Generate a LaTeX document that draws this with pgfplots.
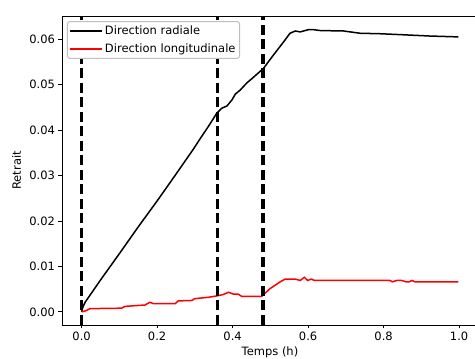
\documentclass[border=0pt]{standalone}
\usepackage{fontspec}
\setmainfont{DejaVu Sans}
\usepackage{pgfplots}
\pgfplotsset{compat=1.18}
\begin{document}
\begin{tikzpicture}
\begin{axis}[
  at={(0,0)}, anchor=south west,
  scale only axis, width=416pt, height=309pt,
  xmin=-0.052, xmax=1.05, ymin=-0.0029, ymax=0.0651,
  xtick={0,0.2,0.4,0.6,0.8,1.0},
  ytick={0,0.01,0.02,0.03,0.04,0.05,0.06},
  scaled y ticks=false, scaled x ticks=false,
  xticklabel style={/pgf/number format/.cd, fixed, fixed zerofill, precision=1},
  yticklabel style={/pgf/number format/.cd, fixed, fixed zerofill, precision=2},
  /pgf/number format/assume math mode=true,
  tick align=outside, xtick pos=bottom, ytick pos=left,
  major tick length=3.5pt,
  tick style={black, line width=0.8pt},
  axis line style={line width=0.8pt},
  font=\fontsize{11.5}{13.8}\selectfont,
  xlabel={Temps (h)}, ylabel={Retrait},
  xlabel style={at={(axis description cs:0.5,-0.1003)}, anchor=base},
  ylabel style={at={(axis description cs:-0.0986,0.5)}, anchor=base},
  legend cell align=left,
  legend style={at={(axis description cs:0,1)}, anchor=north west,
    xshift=5pt, yshift=-5pt, draw=black!25, line width=1pt, rounded corners=2.5pt,
    fill=white, inner xsep=2pt, inner ysep=2.5pt, row sep=3.5pt,
    font=\fontsize{11.5}{13.8}\selectfont},
  legend image code/.code={\path (0pt,0pt) -- (32pt,0pt); \draw[#1] (3pt,0pt) -- (27pt,0pt);},
]
\addplot[black, line width=1.5pt] coordinates {
(0,0) (0.004,0.0012) (0.01,0.0022) (0.02,0.0034) (0.05,0.0070) (0.1,0.0128)
(0.15,0.0187) (0.2,0.0244) (0.25,0.0303) (0.296,0.0358) (0.314,0.0381)
(0.335,0.0407) (0.358,0.0437) (0.371,0.0448) (0.385,0.0453) (0.398,0.0466)
(0.407,0.0479) (0.420,0.0488) (0.438,0.0504) (0.455,0.0516) (0.482,0.0536)
(0.508,0.0565) (0.535,0.0594) (0.552,0.0613) (0.566,0.0618) (0.579,0.0616)
(0.601,0.0621) (0.614,0.0621) (0.632,0.0619) (0.694,0.0618) (0.738,0.0613)
(0.79,0.0612) (0.844,0.0610) (0.92,0.0607) (0.998,0.0605)
};
\addlegendentry{Direction radiale}
\addplot[red, line width=1.5pt] coordinates {
(0,0) (0.01,0.0002) (0.0225,0.0007) (0.106,0.0008) (0.115,0.0012) (0.168,0.0015)
(0.181,0.0021) (0.19,0.0018) (0.248,0.0018) (0.256,0.0024) (0.292,0.0025)
(0.30,0.0029) (0.336,0.0032) (0.358,0.0035) (0.375,0.0038) (0.389,0.0043)
(0.402,0.0039) (0.415,0.0039) (0.424,0.0034) (0.477,0.0034) (0.499,0.0051)
(0.526,0.0066) (0.539,0.0072) (0.566,0.0072) (0.579,0.0069) (0.590,0.0076)
(0.599,0.0069) (0.608,0.0072) (0.617,0.0069) (0.817,0.0069) (0.823,0.0066)
(0.835,0.0069) (0.848,0.0069) (0.859,0.0066) (0.868,0.0066) (0.875,0.0069)
(0.883,0.0066) (0.998,0.0066)
};
\addlegendentry{Direction longitudinale}
\addplot[black, line width=3.5pt, dash pattern=on 10pt off 4.5pt, forget plot] coordinates {(0,-0.0029) (0,0.0651)};
\addplot[black, line width=3.5pt, dash pattern=on 10pt off 4.5pt, forget plot] coordinates {(0.36,-0.0029) (0.36,0.0651)};
\addplot[black, line width=3.5pt, dash pattern=on 10pt off 4.5pt, forget plot] coordinates {(0.48,-0.0029) (0.48,0.0651)};
\end{axis}
\pgfresetboundingbox
\useasboundingbox (-62pt,-34pt) rectangle (413pt,325pt);
\end{tikzpicture}
\end{document}
